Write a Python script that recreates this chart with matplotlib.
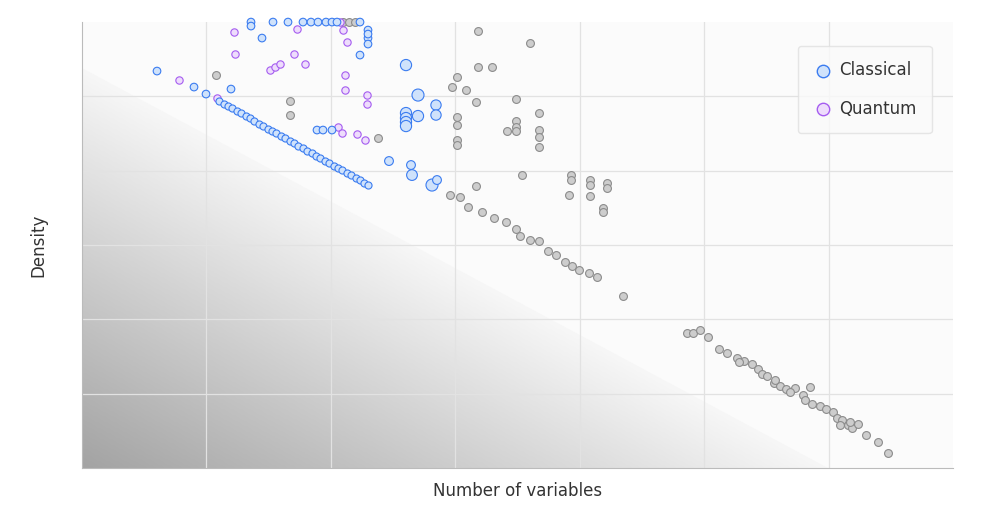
import numpy as np
import matplotlib
matplotlib.use("Agg")
import matplotlib.pyplot as plt
from matplotlib.patches import Polygon

# Data (x: number of variables scale 0..871, y: density scale 0..446)
diag_x = [137,142,146,150,155,159,164,168,172,177,181,186,190,194,199,203,208,212,216,221,225,230,234,238,243,247,252,256,260,265,269,274,278,282,286]
diag_y = [367,364,362,360,357,355,352,350,347,344,342,339,337,335,332,330,327,325,322,320,317,315,312,310,307,305,302,300,298,295,293,290,288,285,283]
cl_x = [169,191,206,221,229,236,244,250,255,278,169,180,75,112,124,149,278,324,336,324,324,324,324,336,354,354,307,329,330,350,355,235,241,250,286,286,286,286]
cl_y = [446,446,446,446,446,446,446,446,446,446,442,430,397,381,374,379,413,403,373,355,350,346,342,352,363,353,307,303,293,283,288,338,338,338,438,430,424,434]
cl_s = [30,30,30,30,30,30,30,30,30,30,30,30,30,30,30,30,30,65,75,65,65,65,65,65,55,55,40,40,60,75,40,30,30,30,30,30,30,30]
qu_x = [97,135,152,153,188,193,198,212,215,223,261,265,263,263,285,285,256,260,275,283,258]
qu_y = [388,370,436,414,398,401,404,414,439,404,438,426,393,378,373,364,341,335,334,328,446]
gr_x = [134,208,208,261,267,273,296,396,448,375,370,384,396,410,375,375,375,375,394,425,434,434,434,434,457,457,457,457,440,489,489,508,508,525,525,487,508,521,521,368,378,394,386,400,412,424,434,438,448,457,466,474,483,490,497,507,515,541,
        605,611,618,626,637,645,655,662,670,676,680,685,692,698,704,713,721,728,730,738,744,751,755,760,766,770,776,784,796,806,657,693,708,723,758,768]
gr_y = [393,367,353,446,446,446,330,437,425,391,381,378,401,401,351,343,328,323,366,337,369,347,341,337,355,338,331,321,293,293,288,288,283,285,280,273,272,260,256,273,271,282,261,256,250,246,239,232,228,227,217,213,206,202,198,195,191,172,
        135,135,138,131,119,115,110,107,104,99,94,92,85,82,79,80,73,81,64,62,59,56,50,48,43,40,44,33,26,15,106,88,76,68,43,46]

fig = plt.figure(figsize=(10, 5.05), dpi=100)
ax = fig.add_axes([0.082, 0.0733, 0.871, 0.883])
ax.set_xlim(0, 871)
ax.set_ylim(0, 446)
ax.set_facecolor("#fbfbfb")

# gradient triangle
gx, gy = np.meshgrid(np.linspace(0, 871, 400), np.linspace(0, 446, 300))
t = np.clip(1 - (gx / 746 + gy / 400), 0, 1)
img = ax.imshow(t, extent=[0, 871, 0, 446], origin="lower", cmap=matplotlib.colors.LinearSegmentedColormap.from_list("g", ["#f7f7f7", "#a3a3a3"]),
                vmin=0, vmax=1, aspect="auto", zorder=0.2, interpolation="bilinear")
tri = Polygon([[0, 400], [0, 0], [746, 0]], closed=True, transform=ax.transData)
img.set_clip_path(tri)

ax.set_xticks(np.arange(1, 7) * 871 / 7)
ax.set_yticks(np.arange(1, 6) * 446 / 6)
ax.tick_params(length=0, labelbottom=False, labelleft=False)
ax.grid(True, color="#e2e2e2", lw=0.9, zorder=0.5)
for s in ["top", "right"]:
    ax.spines[s].set_visible(False)
for s in ["left", "bottom"]:
    ax.spines[s].set_color("#bbbbbb")

kw = dict(linewidths=0.8, zorder=3, clip_on=False)
ax.scatter(gr_x, gr_y, s=32, c="#cdcdcd", edgecolors="#8c8c8c", **kw)
ax.scatter(qu_x, qu_y, s=28, c="#eedcfc", edgecolors="#a55cf0", **kw)
ax.scatter(diag_x, diag_y, s=26, c="#cfe2fb", edgecolors="#3b7cf0", **kw)
ax.scatter(cl_x, cl_y, s=cl_s, c="#cfe2fb", edgecolors="#3b7cf0", **kw)

h1 = ax.scatter([], [], s=80, c="#cfe2fb", edgecolors="#3b7cf0", linewidths=1, label="Classical")
h2 = ax.scatter([], [], s=80, c="#eedcfc", edgecolors="#a55cf0", linewidths=1, label="Quantum")
leg = ax.legend(handles=[h1, h2], loc="upper right", bbox_to_anchor=(0.985, 0.965), fontsize=12, labelspacing=1.25,
                borderpad=0.9, handletextpad=0.4, handlelength=1.2, frameon=True, fancybox=True, edgecolor="#e0e0e0", facecolor="#fafafa")
for tx in leg.get_texts():
    tx.set_color("#333333")

ax.set_xlabel("Number of variables", fontsize=12, color="#333333", labelpad=10)
ax.set_ylabel("Density", fontsize=12, color="#333333", labelpad=25)
fig.savefig("out.png", dpi=100, facecolor="white")
